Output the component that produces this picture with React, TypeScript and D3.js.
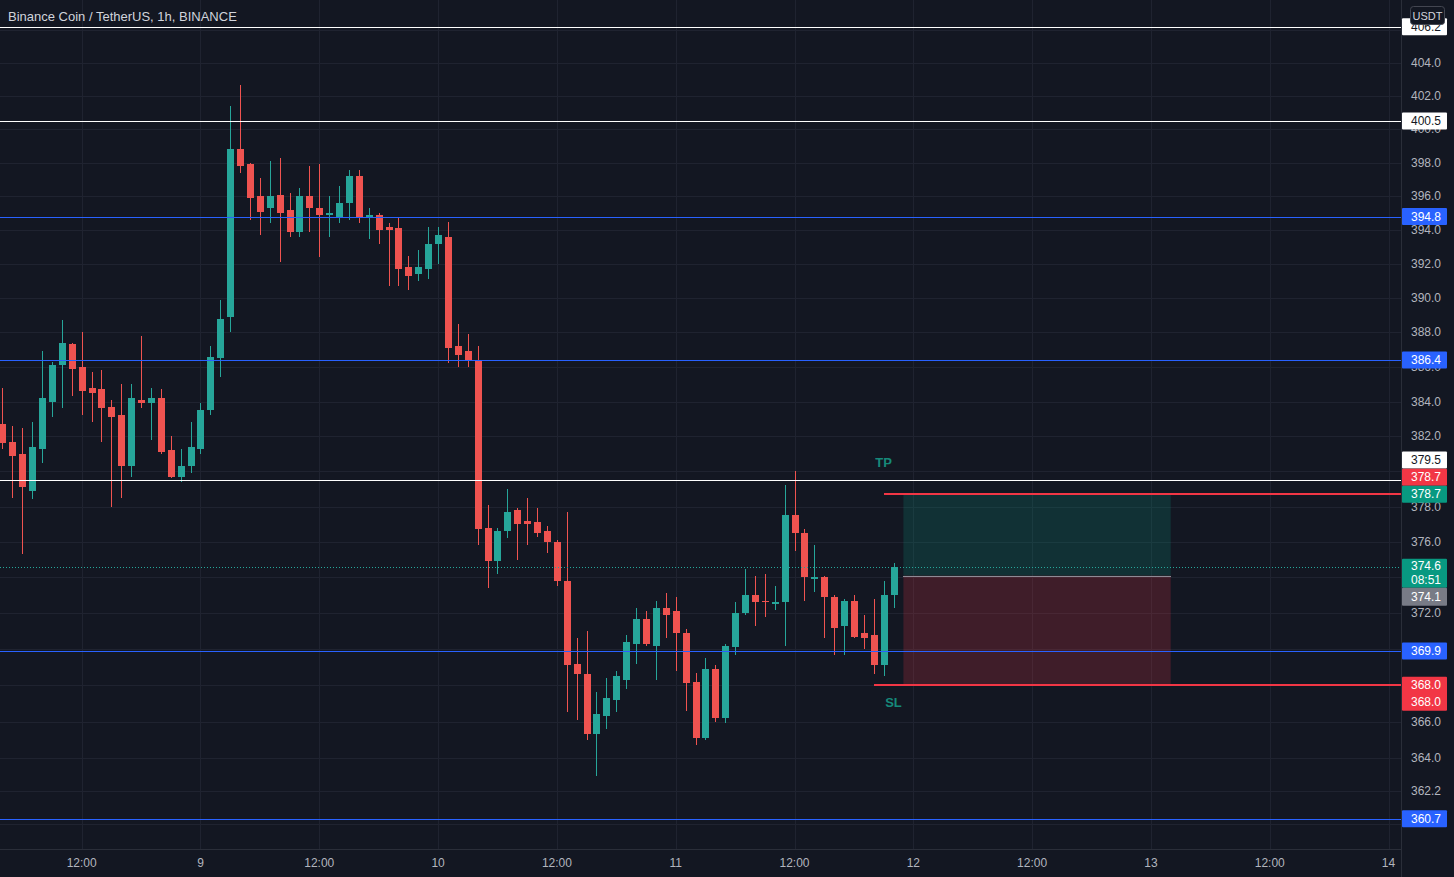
import React from 'react';
import * as d3 from 'd3';

const TITLE = 'Binance Coin / TetherUS, 1h, BINANCE';
const CURRENCY = 'USDT';
const HOUR = 3600000;
const DAY0 = Date.UTC(2022, 2, 9, 0); // "9" on the time axis
const FIRST_BAR = Date.UTC(2022, 2, 8, 4);

// OHLC, hourly bars from 8th 04:00 to 11th 22:00
const opens = [
  382.7, 381.7, 381.0, 378.9, 381.3, 384.0, 386.1, 387.3, 386.0, 384.8,
  384.7, 383.7, 383.2, 380.3, 384.1, 383.9, 384.2, 381.2, 379.7, 380.3,
  381.3, 383.5, 386.5, 388.9, 398.8, 397.9, 396.0, 395.3, 396.1, 395.2,
  393.9, 396.0, 395.3, 394.9, 394.8, 395.6, 397.2, 394.8, 394.9, 394.2,
  394.1, 391.8, 391.4, 391.7, 393.2, 393.6, 387.2, 386.9, 386.4, 376.8,
  374.9, 376.6, 377.8, 377.2, 377.1, 376.6, 376.0, 373.8, 369.2, 368.6,
  365.3, 366.3, 367.2, 368.3, 370.3, 371.7, 370.2, 372.3, 372.1, 370.9,
  368.2, 365.1, 368.9, 366.2, 370.1, 372.0, 373.0, 372.7, 372.5, 372.6,
  377.5, 376.5, 373.9, 374.0, 372.9, 371.3, 372.7, 370.9, 370.8, 369.1,
  373.0,
];
const highs = [
  384.8, 382.6, 382.5, 382.8, 386.9, 386.3, 388.7, 387.4, 388.0, 385.7,
  385.8, 384.1, 385.0, 385.0, 387.8, 384.8, 384.7, 382.0, 381.3, 382.8,
  383.9, 387.2, 389.9, 401.4, 402.7, 398.0, 397.1, 398.1, 398.3, 396.2,
  396.5, 397.8, 397.9, 396.0, 396.6, 397.6, 397.6, 395.3, 395.0, 394.4,
  394.8, 392.5, 392.8, 394.2, 394.2, 394.5, 388.5, 387.9, 387.2, 378.1,
  376.8, 379.0, 377.9, 378.5, 377.9, 376.9, 376.1, 377.7, 370.6, 371.0,
  367.6, 368.4, 368.8, 370.8, 372.3, 372.1, 372.7, 373.1, 372.9, 371.1,
  368.7, 369.5, 369.1, 370.3, 372.6, 374.5, 374.1, 374.2, 373.5, 379.2,
  380.0, 376.7, 375.8, 374.1, 373.0, 372.8, 373.0, 371.9, 372.8, 373.8,
  374.8,
];
const lows = [
  381.3, 378.5, 375.3, 378.4, 380.5, 383.1, 383.6, 384.3, 383.2, 382.8,
  381.7, 378.0, 378.5, 379.7, 383.6, 381.8, 381.0, 379.6, 379.4, 379.9,
  381.0, 383.2, 385.4, 388.0, 397.4, 394.6, 393.7, 394.4, 392.1, 393.6,
  393.6, 393.9, 392.4, 393.6, 394.4, 394.6, 394.4, 393.5, 393.2, 390.7,
  390.7, 390.5, 391.0, 391.1, 392.0, 386.2, 386.0, 386.0, 375.8, 373.4,
  374.2, 376.2, 375.0, 375.8, 376.3, 375.4, 373.5, 366.5, 366.1, 365.0,
  363.0, 365.6, 366.5, 367.8, 369.2, 370.2, 368.3, 370.6, 368.8, 366.6,
  364.7, 365.0, 366.0, 365.9, 369.7, 371.9, 371.3, 371.8, 372.2, 370.2,
  375.5, 372.7, 373.2, 370.6, 369.7, 369.7, 370.6, 370.0, 368.6, 368.5,
  372.3,
];
const closes = [
  381.6, 380.9, 379.1, 381.4, 384.2, 386.1, 387.4, 385.9, 384.6, 384.5,
  383.6, 383.1, 380.3, 384.2, 383.9, 384.2, 381.1, 379.7, 380.3, 381.4,
  383.5, 386.6, 388.8, 398.8, 397.8, 395.9, 395.1, 396.0, 395.0, 393.9,
  396.0, 395.3, 394.9, 395.0, 395.6, 397.2, 394.7, 394.9, 394.0, 394.0,
  391.7, 391.3, 391.8, 393.2, 393.7, 387.1, 386.7, 386.4, 376.7, 374.9,
  376.6, 377.7, 377.0, 377.0, 376.5, 376.0, 373.8, 369.1, 368.6, 365.3,
  366.4, 367.3, 368.5, 370.4, 371.7, 370.3, 372.3, 371.9, 370.9, 368.1,
  365.1, 368.9, 366.2, 370.2, 372.0, 373.0, 372.6, 372.6, 372.6, 377.5,
  376.5, 374.0, 374.0, 372.9, 371.2, 372.7, 370.7, 370.6, 369.1, 373.0,
  374.6,
];

// price-axis ticks (grid rows); those hidden behind labels are still grid rows
const priceTicks = [
  406.0, 404.0, 402.0, 400.0, 398.0, 396.0, 394.0, 392.0, 390.0, 388.0,
  386.0, 384.0, 382.0, 380.0, 378.0, 376.0, 374.0, 372.0, 370.0, 368.0,
  366.0, 364.0, 362.2, 360.4,
];
// tick labels visible (at least partly) on the price axis
const priceTickLabels = [
  404.0, 402.0, 400.0, 398.0, 396.0, 394.0, 392.0, 390.0, 388.0,
  386.0, 384.0, 382.0, 378.0, 376.0, 372.0, 366.0, 364.0, 362.2,
];

// horizontal drawn levels
const levelPrices = [406.2, 400.5, 394.8, 386.4, 379.5, 369.9, 360.7];
const levelColors = ['#ffffff', '#ffffff', '#2962ff', '#2962ff', '#ffffff', '#2962ff', '#2962ff'];

// long position tool
const tpPrice = 378.7;
const slPrice = 368.0;
const entryPrice = 374.1;
const lastPrice = 374.6;
const countdown = '08:51';
const boxStartHour = 71;
const boxEndHour = 98;
const tpLineStartHour = 69;
const slLineStartHour = 68;
const tpTextHour = 69;
const slTextHour = 70;

const W = 1454;
const H = 877;
const PR = 1401; // right edge of plot
const PB = 849; // bottom edge of plot
const BG = '#131722';
const GRID = '#1f2330';
const UP = '#26a69a';
const DOWN = '#ef5350';
const FONT = '"Liberation Sans", Arial, sans-serif';

export default function App() {
  const x = d3
    .scaleUtc()
    .domain([new Date(DAY0 - 20.25 * HOUR), new Date(DAY0 + 121.26 * HOUR)])
    .range([0, PR]);
  const y = d3.scaleLog().domain([359.07, 407.84]).range([PB, 0]);

  const times = opens.map((_, i) => new Date(FIRST_BAR + i * HOUR));
  const timeTicks = d3.utcHour.every(12)!.range(x.domain()[0], x.domain()[1]);
  const hourX = (h: number) => x(new Date(DAY0 + h * HOUR));
  const crisp = (v: number) => Math.round(v) + 0.5;

  const bodyW = 7;

  const LX = 1402;
  const LW = 45;
  type Lab = { lines: string[]; top: number; rowH: number; bg: string; fg: string };
  const labels: Lab[] = [];
  levelPrices.forEach((p, i) => {
    const white = levelColors[i] === '#ffffff';
    let yc = y(p);
    if (p === 379.5) yc -= 20;
    labels.push({ lines: [p.toFixed(1)], top: yc - 8.5, rowH: 17, bg: white ? '#ffffff' : '#2962ff', fg: white ? '#131722' : '#ffffff' });
  });
  labels.push({ lines: [tpPrice.toFixed(1)], top: y(tpPrice) - 17 - 8.5, rowH: 17, bg: '#f23645', fg: '#ffffff' });
  labels.push({ lines: [tpPrice.toFixed(1)], top: y(tpPrice) - 8.5, rowH: 17, bg: '#089981', fg: '#ffffff' });
  labels.push({ lines: [slPrice.toFixed(1), slPrice.toFixed(1)], top: y(slPrice) - 8.5, rowH: 17, bg: '#f23645', fg: '#ffffff' });
  labels.push({ lines: [lastPrice.toFixed(1), countdown], top: y(lastPrice) - 8, rowH: 14.5, bg: '#089981', fg: '#ffffff' });
  labels.push({ lines: [entryPrice.toFixed(1)], top: y(lastPrice) - 8 + 29, rowH: 18, bg: '#787b86', fg: '#ffffff' });

  const x0 = hourX(boxStartHour);
  const x1 = hourX(boxEndHour);

  return (
    <svg
      width={W}
      height={H}
      style={{ position: 'absolute', left: 0, top: 0, display: 'block' }}
      fontFamily={FONT}
    >
      <rect x={0} y={0} width={W} height={H} fill={BG} />

      {/* grid */}
      <g shapeRendering="crispEdges">
        {timeTicks.map((t, i) => (
          <line key={'vg' + i} x1={crisp(x(t))} x2={crisp(x(t))} y1={0} y2={PB} stroke={GRID} />
        ))}
        {priceTicks.map((p, i) => (
          <line key={'hg' + i} x1={0} x2={PR} y1={crisp(y(p))} y2={crisp(y(p))} stroke={GRID} />
        ))}
      </g>

      {/* position tool zones */}
      <rect x={x0} y={y(tpPrice)} width={x1 - x0} height={y(entryPrice) - y(tpPrice)} fill="rgba(8,153,129,0.2)" />
      <rect x={x0} y={y(entryPrice)} width={x1 - x0} height={y(slPrice) - y(entryPrice)} fill="rgba(242,54,69,0.2)" />
      <line x1={x0} x2={x1} y1={crisp(y(entryPrice))} y2={crisp(y(entryPrice))} stroke="#8f8a95" strokeWidth={1} shapeRendering="crispEdges" />

      {/* candles */}
      <g shapeRendering="crispEdges">
        {times.map((t, i) => {
          const o = opens[i];
          const c = closes[i];
          const col = c >= o ? UP : DOWN;
          const cx = Math.round(x(t));
          const top = Math.round(y(Math.max(o, c)));
          const bot = Math.round(y(Math.min(o, c)));
          return (
            <g key={'c' + i}>
              <line x1={cx + 0.5} x2={cx + 0.5} y1={Math.round(y(highs[i]))} y2={Math.round(y(lows[i]))} stroke={col} strokeWidth={1} />
              <rect x={cx - (bodyW - 1) / 2} y={top} width={bodyW} height={Math.max(1, bot - top)} fill={col} />
            </g>
          );
        })}
      </g>

      {/* horizontal levels */}
      <g shapeRendering="crispEdges">
        {levelPrices.map((p, i) => (
          <line key={'lv' + i} x1={0} x2={PR} y1={crisp(y(p))} y2={crisp(y(p))} stroke={levelColors[i]} strokeWidth={1} />
        ))}
      </g>

      {/* last price dotted line */}
      <line x1={0} x2={PR} y1={crisp(y(lastPrice))} y2={crisp(y(lastPrice))} stroke={UP} strokeWidth={1} strokeDasharray="1 2" shapeRendering="crispEdges" />

      {/* TP / SL lines */}
      <line x1={hourX(tpLineStartHour)} x2={PR} y1={Math.round(y(tpPrice))} y2={Math.round(y(tpPrice))} stroke="#f23645" strokeWidth={2} shapeRendering="crispEdges" />
      <line x1={hourX(slLineStartHour)} x2={PR} y1={Math.round(y(slPrice))} y2={Math.round(y(slPrice))} stroke="#f23645" strokeWidth={2} shapeRendering="crispEdges" />
      <text x={hourX(tpTextHour)} y={y(tpPrice) - 27} fill="#16897a" fontSize={13} fontWeight="bold" textAnchor="middle">TP</text>
      <text x={hourX(slTextHour)} y={y(slPrice) + 22} fill="#16897a" fontSize={13} fontWeight="bold" textAnchor="middle">SL</text>

      {/* axes separators */}
      <rect x={PR + 0.5} y={0} width={W - PR} height={H} fill={BG} />
      <rect x={0} y={PB + 0.5} width={PR} height={H - PB} fill={BG} />
      <g shapeRendering="crispEdges">
        <line x1={PR + 0.5} x2={PR + 0.5} y1={0} y2={H} stroke="#2a2e39" />
        <line x1={0} x2={PR} y1={PB + 0.5} y2={PB + 0.5} stroke="#2a2e39" />
      </g>

      {/* price ticks */}
      {priceTickLabels.map((p, i) => (
        <text key={'pt' + i} x={1426} y={y(p) + 4} fill="#b2b5be" fontSize={12} textAnchor="middle">
          {p.toFixed(1)}
        </text>
      ))}

      {/* time ticks */}
      {timeTicks.map((t, i) => (
        <text key={'tt' + i} x={x(t)} y={867} fill="#b2b5be" fontSize={12} textAnchor="middle">
          {t.getUTCHours() === 0 ? String(t.getUTCDate()) : d3.utcFormat('%H:%M')(t)}
        </text>
      ))}

      {/* price labels */}
      {labels.map((l, i) => {
        const h = l.rowH * l.lines.length;
        return (
          <g key={'lb' + i}>
            <rect x={LX} y={l.top} width={LW} height={h} fill={l.bg} rx={1} />
            {l.lines.map((s, j) => (
              <text key={j} x={1426} y={l.top + l.rowH * j + l.rowH / 2 + 4} fill={l.fg} fontSize={12} textAnchor="middle">
                {s}
              </text>
            ))}
          </g>
        );
      })}

      {/* currency badge */}
      <rect x={1410.5} y={6.5} width={34} height={18} rx={3} fill={BG} stroke="#434651" />
      <text x={1427.5} y={19.5} fill="#d1d4dc" fontSize={11} textAnchor="middle">{CURRENCY}</text>

      {/* title */}
      <text x={8} y={21} fill="#d1d4dc" fontSize={13}>{TITLE}</text>
    </svg>
  );
}
